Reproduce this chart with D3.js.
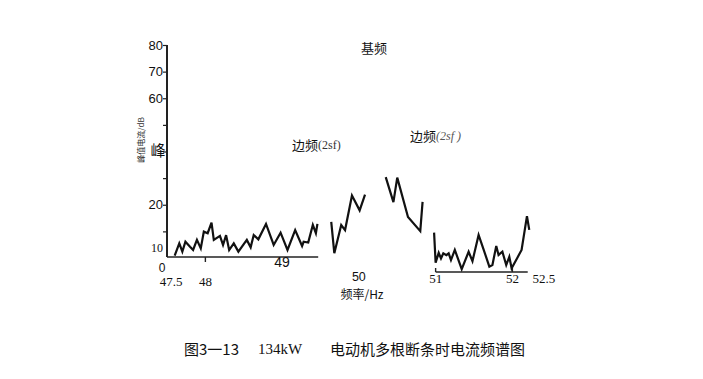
<!DOCTYPE html>
<html><head><meta charset="utf-8">
<script src="https://cdn.jsdelivr.net/npm/d3@7"></script>
<style>
body{margin:0;background:#fff;}
svg{display:block;}
</style></head>
<body>
<svg id="chart" width="703" height="379"></svg>
<script>
// ---- data (frequency in Hz, amplitude) ----
const seg1Freq = [47.60,47.66,47.70,47.74,47.80,47.84,47.89,47.94,47.98,48.03,48.08,48.11,48.19,48.23,48.27,48.31,48.37,48.43,48.54,48.59,48.63,48.69,48.79,48.89,48.98,49.07,49.17,49.26,49.28,49.34,49.40,49.44,49.46];
const seg1Val  = [0.9,5.5,2.4,6.1,4.2,3.0,6.8,3.6,9.9,9.3,13.3,6.8,8.3,4.9,8.6,3.0,5.5,2.4,6.8,4.0,8.6,7.0,12.8,4.9,9.5,3.0,10.5,4.5,6.1,5.8,12.4,9.3,12.8];
const seg2Freq = [49.64,49.68,49.77,49.82,49.91,50.01,50.08];
const seg2Val  = [13.6,1.8,12.4,10.5,23.5,17.9,23.8];
const seg3Freq = [50.35,50.45,50.50,50.64,50.80,50.83];
const seg3Val  = [30.4,21.0,30.2,15.4,10.1,21.1];
const seg4Freq = [50.98,51.00,51.04,51.07,51.10,51.14,51.17,51.20,51.25,51.34,51.43,51.48,51.56,51.62,51.70,51.74,51.79,51.82,51.87,51.92,51.96,51.99,52.06,52.12,52.19,52.22];
const seg4Val  = [14.8,3.5,7.2,5.1,7.0,6.3,7.0,4.5,8.3,1.1,7.6,4.1,13.9,8.9,2.0,2.6,9.8,6.4,7.6,2.6,5.7,1.4,5.1,8.3,21.0,15.8];

const yTickValues = [10,20,30,40,50,60,70,80];
const yTickLabels = {20:"20",60:"60",70:"70",80:"80"};
const xTicksLow  = [47.5, 48];
const xTickHigh  = [49];
const xTicksRight= [50, 51, 52, 52.5];
const leftAxisExtent  = [47.5, 49.47];
const rightAxisExtent = [51, 52.2];

const title = "基频";
const side1 = "边频(2sf)";
const side2 = "边频(2sf)";
const xTitle = "频率/Hz";
const captionParts = ["图3一13", "134kW", "电动机多根断条时电流频谱图"];

// ---- scales ----
const svg = d3.select("#chart");
const x = d3.scaleLinear().domain([47.5, 52.5]).range([167, 550.75]);
const y = d3.scaleLinear().domain([0, 80]).range([258, 45]);
const yR = d3.scaleLinear().domain([0, 80]).range([272, 59]); // right panel sits lower in the scan

const serif = "'Liberation Serif', 'DejaVu Serif', serif";
const sans  = "'Liberation Sans', Arial, sans-serif";
const cjk   = "'Noto Sans CJK SC', sans-serif";

// y axis
const yAxis = d3.axisLeft(y).tickValues(yTickValues).tickSize(4)
  .tickFormat(d => yTickLabels[d] || "");
const gy = svg.append("g").attr("transform","translate(167,0)").call(yAxis);
gy.select(".domain").attr("d", `M0,${y(80)}V${y(0)-1}`).attr("stroke","#222").attr("stroke-width",2);
gy.selectAll(".tick line").attr("stroke","#222").attr("stroke-width",1.2);
gy.selectAll(".tick text").attr("font-family", sans).attr("font-size",13).attr("fill","#111").attr("x",-4);
// "10" label drawn lower as in the scan, and "0"
svg.append("text").attr("x",163).attr("y",y(10)+18).attr("text-anchor","end")
  .attr("dominant-baseline","middle").attr("font-family",serif).attr("font-size",12).attr("fill","#111").text("10");
svg.append("text").attr("x",162).attr("y",y(0)+11).attr("text-anchor","middle")
  .attr("dominant-baseline","middle").attr("font-family",sans).attr("font-size",12).attr("fill","#111").text("0");

// y axis label (garbled scan)
svg.append("text").attr("transform",`translate(144,140) rotate(-90)`).attr("text-anchor","middle")
  .attr("font-family",cjk).attr("font-size",8).attr("fill","#333").text("峰值电流/dB");
svg.append("text").attr("x",158).attr("y",152).attr("text-anchor","middle").attr("dominant-baseline","middle")
  .attr("font-family",cjk).attr("font-size",15).attr("fill","#111").text("峰");

// left x axis line
svg.append("line").attr("x1",x(leftAxisExtent[0])).attr("x2",x(leftAxisExtent[1]))
  .attr("y1",y(0)-1).attr("y2",y(0)-1).attr("stroke","#222").attr("stroke-width",1.6);
svg.append("line").attr("x1",x(48)).attr("x2",x(48)).attr("y1",y(0)-1).attr("y2",y(0)+4)
  .attr("stroke","#222").attr("stroke-width",1.4);
// right x axis line
svg.append("line").attr("x1",x(rightAxisExtent[0])).attr("x2",x(rightAxisExtent[1]))
  .attr("y1",yR(0)).attr("y2",yR(0)).attr("stroke","#222").attr("stroke-width",1.6);
[51,52].forEach(t => svg.append("line").attr("x1",x(t)).attr("x2",x(t)).attr("y1",yR(0)).attr("y2",yR(0)-4)
  .attr("stroke","#222").attr("stroke-width",1.4));

// x tick labels
svg.selectAll(".xl").data(xTicksLow).join("text")
  .attr("x",d=>x(d)+(d===47.5?4:0)).attr("y",283).attr("text-anchor","middle").attr("dominant-baseline","middle")
  .attr("font-family",serif).attr("font-size",13).attr("fill","#111").text(d=>d);
svg.selectAll(".xh").data(xTickHigh).join("text")
  .attr("x",d=>x(d)).attr("y",263).attr("text-anchor","middle").attr("dominant-baseline","middle")
  .attr("font-family",sans).attr("font-size",14).attr("fill","#111").text(d=>d);
svg.selectAll(".xr").data(xTicksRight).join("text")
  .attr("x",d=>x(d)+(d===52.5?-7:0)).attr("y",d=>d===50?278:280).attr("text-anchor","middle").attr("dominant-baseline","middle")
  .attr("font-family",d=>d===50?sans:serif).attr("font-size",d=>d===50?12.5:13).attr("fill","#111").text(d=>d);

// x title
svg.append("text").attr("x",362).attr("y",296).attr("text-anchor","middle").attr("dominant-baseline","middle")
  .attr("font-family",cjk).attr("font-size",12).attr("fill","#111").text(xTitle);

// lines
const segs = [
  {f:seg1Freq, v:seg1Val, ys:y},
  {f:seg2Freq, v:seg2Val, ys:y},
  {f:seg3Freq, v:seg3Val, ys:y},
  {f:seg4Freq, v:seg4Val, ys:yR},
];
segs.forEach(s => {
  const line = d3.line().x((d,i)=>x(s.f[i])).y(d=>s.ys(d));
  svg.append("path").attr("d", line(s.v)).attr("fill","none").attr("stroke","#111")
    .attr("stroke-width",2.2).attr("stroke-linejoin","miter");
});

// annotations
svg.append("text").attr("x",374).attr("y",49).attr("text-anchor","middle").attr("dominant-baseline","middle")
  .attr("font-family",cjk).attr("font-size",13).attr("fill","#111").text(title);
const a1 = svg.append("text").attr("x",292).attr("y",146).attr("dominant-baseline","middle")
  .attr("font-family",cjk).attr("font-size",13).attr("fill","#111");
a1.append("tspan").text("边频");
a1.append("tspan").attr("font-family",serif).attr("font-size",12).attr("fill","#333").text("(2sf)");
const a2 = svg.append("text").attr("x",410).attr("y",137).attr("dominant-baseline","middle")
  .attr("font-family",cjk).attr("font-size",13).attr("fill","#111");
a2.append("tspan").text("边频");
a2.append("tspan").attr("font-family",serif).attr("font-size",12).attr("font-style","italic").attr("fill","#555").text("(2sf )");

// caption
const capX = [184, 258, 330];
captionParts.forEach((t,i) => {
  svg.append("text").attr("x",capX[i]).attr("y",351).attr("dominant-baseline","middle")
    .attr("font-family", i===1 ? serif : cjk).attr("font-size", i===1?15:15).attr("fill","#111").text(t);
});
</script>
</body></html>
